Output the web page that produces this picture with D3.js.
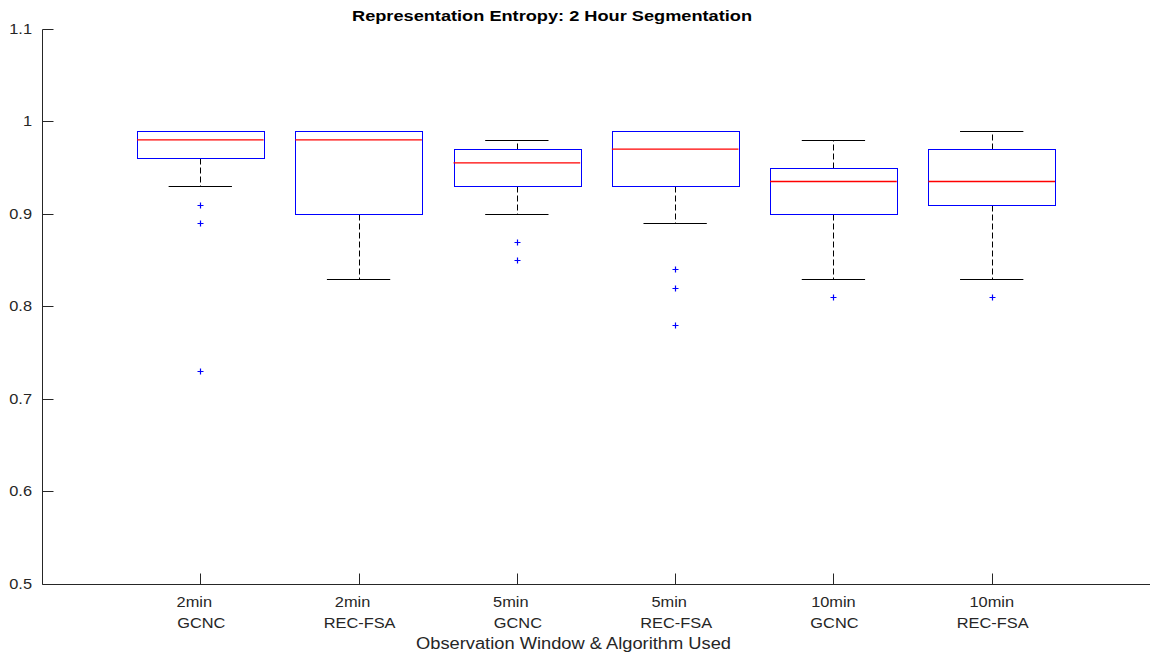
<!DOCTYPE html>
<html>
<head>
<meta charset="utf-8">
<script src="https://cdn.jsdelivr.net/npm/d3@7"></script>
<style>
  body { margin: 0; background: #fff; }
  svg { font-family: "Liberation Sans", Arial, sans-serif; }
</style>
</head>
<body>
<div id="chart"></div>
<script>
// box plot values
const windows = ["2min", "2min", "5min", "5min", "10min", "10min"];
const algorithms = ["GCNC", "REC-FSA", "GCNC", "REC-FSA", "GCNC", "REC-FSA"];
const lowerWhisker = [0.93, 0.83, 0.90, 0.89, 0.83, 0.83];
const q1 = [0.96, 0.90, 0.93, 0.93, 0.90, 0.91];
const medians = [0.98, 0.98, 0.955, 0.97, 0.935, 0.935];
const q3 = [0.99, 0.99, 0.97, 0.99, 0.95, 0.97];
const upperWhisker = [0.99, 0.99, 0.98, 0.99, 0.98, 0.99];
const outliers = [[0.91, 0.89, 0.73], [], [0.87, 0.85], [0.84, 0.82, 0.78], [0.81], [0.81]];
const yTicks = [0.5, 0.6, 0.7, 0.8, 0.9, 1, 1.1];

function main() {
    const width = 1157, height = 657;
    const svg = d3.select("#chart").append("svg")
        .attr("width", width).attr("height", height);

    const x = d3.scaleLinear().domain([0, 7]).range([42, 1150]);
    const y = d3.scaleLinear().domain([0.5, 1.1]).range([584, 28.8]);
    const px = v => Math.round(x(v)) + 0.5;
    const py = v => Math.round(y(v)) + 0.5;
    const boxW = x(0.4) - x(0);
    const capW = x(0.2) - x(0);
    const axisColor = "#262626";
    const stretch = 1.17; // labels in the picture are a bit wider than tall
    const maxLen = d3.max(windows, w => w.length);

    const boxes = windows.map((w, i) => ({
        i: i + 1, lo: lowerWhisker[i], q1: q1[i], med: medians[i],
        q3: q3[i], hi: upperWhisker[i], out: outliers[i]
    }));

    // axes lines
    svg.append("line").attr("x1", px(0)).attr("x2", px(0)).attr("y1", py(0.5)).attr("y2", py(1.1))
        .attr("stroke", axisColor);
    svg.append("line").attr("x1", px(0)).attr("x2", x(7)).attr("y1", py(0.5)).attr("y2", py(0.5))
        .attr("stroke", axisColor);

    // y ticks (inside)
    const yt = svg.append("g");
    yt.selectAll("line").data(yTicks).join("line")
        .attr("x1", px(0)).attr("x2", px(0) + 11)
        .attr("y1", d => py(d)).attr("y2", d => py(d))
        .attr("stroke", axisColor);
    yt.selectAll("text").data(yTicks).join("text")
        .attr("transform", d => `translate(${x(0) - 10},${y(d) + 5}) scale(${stretch},1)`)
        .attr("text-anchor", "end").attr("font-size", 14).attr("fill", axisColor)
        .text(d => d3.format("")(d));

    // x ticks (inside)
    const xt = svg.append("g");
    xt.selectAll("line").data(boxes).join("line")
        .attr("x1", d => px(d.i)).attr("x2", d => px(d.i))
        .attr("y1", py(0.5)).attr("y2", py(0.5) - 11)
        .attr("stroke", axisColor);
    // shorter window names sit a little left, as if padded with spaces
    xt.selectAll("text.w").data(boxes).join("text").attr("class", "w")
        .attr("transform", (d, i) => `translate(${x(d.i) - (maxLen - windows[i].length) * 6},607) scale(${stretch},1)`)
        .attr("text-anchor", "middle").attr("font-size", 14).attr("fill", axisColor)
        .text((d, i) => windows[i]);
    xt.selectAll("text.a").data(boxes).join("text").attr("class", "a")
        .attr("transform", d => `translate(${x(d.i) + 1},628) scale(${stretch},1)`)
        .attr("text-anchor", "middle").attr("font-size", 14).attr("fill", axisColor)
        .text((d, i) => algorithms[i]);

    // axis label and title
    svg.append("text").attr("x", 416).attr("y", 649)
        .attr("font-size", 16).attr("fill", axisColor)
        .attr("textLength", 315).attr("lengthAdjust", "spacingAndGlyphs")
        .text("Observation Window & Algorithm Used");
    svg.append("text").attr("x", 352).attr("y", 21)
        .attr("font-size", 14).attr("font-weight", "bold")
        .attr("textLength", 400).attr("lengthAdjust", "spacingAndGlyphs")
        .text("Representation Entropy: 2 Hour Segmentation");

    const g = svg.append("g").selectAll("g").data(boxes).join("g");

    // whiskers
    g.append("line")
        .attr("x1", d => px(d.i)).attr("x2", d => px(d.i))
        .attr("y1", d => py(d.q3)).attr("y2", d => py(d.hi))
        .attr("stroke", "black").attr("stroke-dasharray", "6,3");
    g.append("line")
        .attr("x1", d => px(d.i)).attr("x2", d => px(d.i))
        .attr("y1", d => py(d.q1)).attr("y2", d => py(d.lo))
        .attr("stroke", "black").attr("stroke-dasharray", "6,3");
    // caps
    g.append("line")
        .attr("x1", d => x(d.i) - capW).attr("x2", d => x(d.i) + capW)
        .attr("y1", d => py(d.hi)).attr("y2", d => py(d.hi))
        .attr("stroke", "black");
    g.append("line")
        .attr("x1", d => x(d.i) - capW).attr("x2", d => x(d.i) + capW)
        .attr("y1", d => py(d.lo)).attr("y2", d => py(d.lo))
        .attr("stroke", "black");
    // box
    g.append("rect")
        .attr("x", d => Math.round(x(d.i) - boxW) + 0.5).attr("width", Math.round(2 * boxW))
        .attr("y", d => py(d.q3)).attr("height", d => py(d.q1) - py(d.q3))
        .attr("fill", "none").attr("stroke", "#0000ff");
    // median
    g.append("line")
        .attr("x1", d => x(d.i) - boxW).attr("x2", d => x(d.i) + boxW)
        .attr("y1", d => y(d.med)).attr("y2", d => y(d.med))
        .attr("stroke", "#ff0000").attr("stroke-width", 1.3);
    // outliers
    g.selectAll("path").data(d => d.out.map(v => ({ i: d.i, v: v }))).join("path")
        .attr("d", d => {
            const cx = px(d.i), cy = py(d.v);
            return `M${cx - 3},${cy}H${cx + 3}M${cx},${cy - 3}V${cy + 3}`;
        })
        .attr("stroke", "#0000ff").attr("stroke-width", 1.2);
}
main();
</script>
</body>
</html>
